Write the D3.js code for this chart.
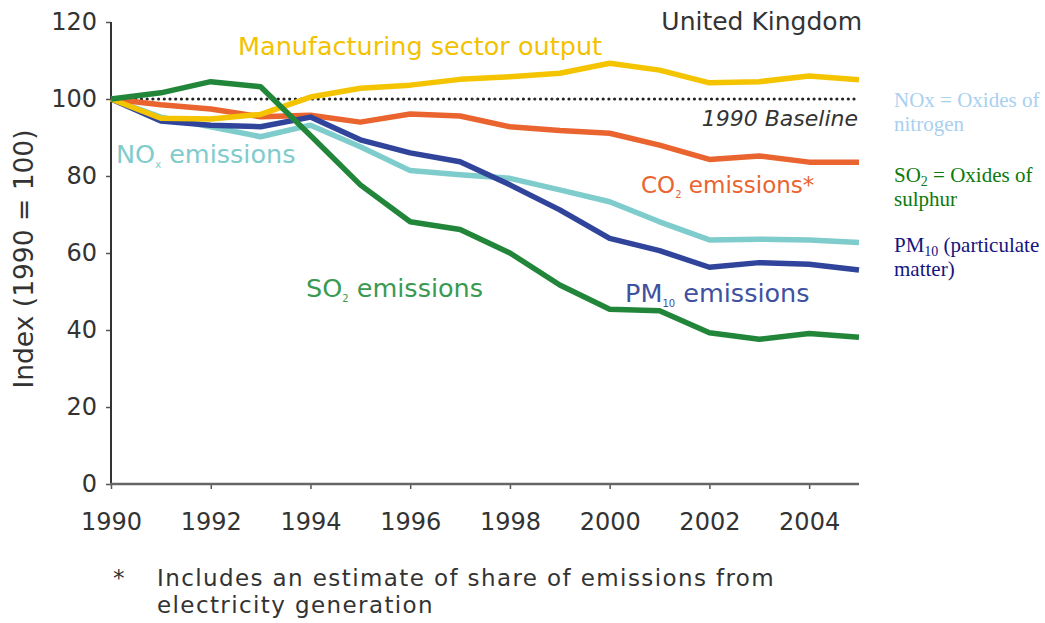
<!DOCTYPE html>
<html>
<head>
<meta charset="utf-8">
<script src="https://cdn.jsdelivr.net/npm/d3@7"></script>
<style>
  body { margin: 0; background: #fff; }
  svg { display: block; font-family: "DejaVu Sans", Verdana, sans-serif; }
  .axis text { fill: #333; font-size: 24px; font-family: "DejaVu Sans", Verdana, sans-serif; }
  .axis .domain { display: none; }
  .axis .tick line { stroke: #555; stroke-width: 1.5; }
</style>
</head>
<body>
<svg id="chart" width="1045" height="623"></svg>
<script>
// Emission indices for the UK, 1990 = 100
const years = d3.range(1990, 2006);
const manufacturing = [100, 95.0, 94.8, 96.0, 100.5, 102.8, 103.6, 105.1, 105.8, 106.7, 109.3, 107.5, 104.2, 104.5, 106.0, 105.0];
const co2  = [100, 98.5, 97.4, 95.4, 95.8, 94.0, 96.1, 95.6, 92.8, 91.8, 91.1, 88.0, 84.3, 85.2, 83.6, 83.6];
const nox  = [100, 95.3, 92.8, 90.2, 93.2, 87.6, 81.4, 80.3, 79.4, 76.4, 73.3, 68.1, 63.4, 63.6, 63.4, 62.7];
const pm10 = [100, 94.3, 93.2, 92.8, 95.3, 89.4, 86.0, 83.7, 77.7, 71.2, 63.8, 60.6, 56.3, 57.5, 57.1, 55.6];
const so2  = [100, 101.6, 104.5, 103.2, 90.5, 77.7, 68.1, 66.1, 60.0, 51.7, 45.4, 45.0, 39.3, 37.6, 39.1, 38.1];
const yTicks = [0, 20, 40, 60, 80, 100, 120];
const xTicks = d3.range(1990, 2006, 2);

const series = [
  { name: 'nox', values: nox, color: '#7fcccc' },
  { name: 'co2', values: co2, color: '#e9642f' },
  { name: 'pm10', values: pm10, color: '#2f449a' },
  { name: 'manufacturing', values: manufacturing, color: '#f5c400' },
  { name: 'so2', values: so2, color: '#22863a' }
];

const svg = d3.select('#chart');

const x = d3.scaleLinear().domain([1990, 2005]).range([111, 859]);
const y = d3.scaleLinear().domain([0, 120]).range([484, 22]);

// Axes
svg.append('g')
  .attr('class', 'axis')
  .attr('transform', 'translate(111,0)')
  .call(d3.axisLeft(y).tickValues(yTicks).tickSize(5).tickPadding(9));

svg.append('g')
  .attr('class', 'axis')
  .attr('transform', 'translate(0,484)')
  .call(d3.axisBottom(x).tickValues(xTicks).tickFormat(d3.format('d')).tickSize(5).tickPadding(24));

svg.append('line')
  .attr('x1', 111).attr('x2', 111)
  .attr('y1', y(120)).attr('y2', y(0))
  .attr('stroke', '#333').attr('stroke-width', 2);

svg.append('line')
  .attr('x1', 110).attr('x2', x(2005))
  .attr('y1', y(0)).attr('y2', y(0))
  .attr('stroke', '#666').attr('stroke-width', 2.5);

// 1990 baseline (round dots)
svg.append('line')
  .attr('x1', x(1990) + 2).attr('x2', x(2005))
  .attr('y1', y(100)).attr('y2', y(100))
  .attr('stroke', '#222').attr('stroke-width', 3.2)
  .attr('stroke-linecap', 'round')
  .attr('stroke-dasharray', '0,5.7');

// Lines
const line = d3.line()
  .x((d, i) => x(years[i]))
  .y(d => y(d));

series.forEach(s => {
  svg.append('path')
    .datum(s.values)
    .attr('fill', 'none')
    .attr('stroke', s.color)
    .attr('stroke-width', 5.5)
    .attr('stroke-linejoin', 'round')
    .attr('d', line);
});

// Labels on the chart
function label(xPos, yPos, parts, color, opts = {}) {
  const t = svg.append('text')
    .attr('x', xPos).attr('y', yPos)
    .attr('fill', color)
    .attr('font-size', opts.size || 24)
    .attr('text-anchor', opts.anchor || 'start')
    .attr('font-style', opts.italic ? 'italic' : null);
  parts.forEach(p => {
    const sp = t.append('tspan').text(p.t);
    if (p.sub) {
      sp.attr('font-size', 10).attr('dy', 5);
    } else if (p.after) {
      sp.attr('dy', -5);
    }
  });
  return t;
}

label(862, 30, [{ t: 'United Kingdom' }], '#333', { anchor: 'end', size: 25 });
label(238, 55, [{ t: 'Manufacturing sector output' }], '#f2c200', { size: 25.5 });
label(858, 126, [{ t: '1990 Baseline' }], '#333', { anchor: 'end', italic: true, size: 22 });
label(116, 163, [{ t: 'NO' }, { t: 'x', sub: true }, { t: ' emissions', after: true }], '#80cccc', { size: 25.5 });
label(641, 193, [{ t: 'CO' }, { t: '2', sub: true }, { t: ' emissions*', after: true }], '#e9642f', { size: 23 });
label(306, 297, [{ t: 'SO' }, { t: '2', sub: true }, { t: ' emissions', after: true }], '#3a9a52', { size: 25.5 });
label(625, 302, [{ t: 'PM' }, { t: '10', sub: true }, { t: ' emissions', after: true }], '#40529f', { size: 25.5 });

// Y axis title
svg.append('text')
  .attr('transform', 'translate(33,259) rotate(-90)')
  .attr('text-anchor', 'middle')
  .attr('fill', '#333')
  .attr('font-size', 26.5)
  .text('Index (1990 = 100)');

// Footnote
const foot = svg.append('g').attr('fill', '#333').attr('font-size', 23).attr('letter-spacing', 1.4);
foot.append('text').attr('x', 113).attr('y', 586).text('*');
foot.append('text').attr('x', 157).attr('y', 586).text('Includes an estimate of share of emissions from');
foot.append('text').attr('x', 157).attr('y', 613).text('electricity generation');

// Notes on the right
const notes = svg.append('g').attr('font-family', '"Liberation Serif", "Times New Roman", serif').attr('font-size', 21);
function note(yPos, parts, color) {
  const t = notes.append('text').attr('x', 894).attr('y', yPos).attr('fill', color);
  parts.forEach(p => {
    const sp = t.append('tspan').text(p.t);
    if (p.sub) sp.attr('font-size', 14).attr('dy', 4);
    else if (p.after) sp.attr('dy', -4);
  });
}
note(107, [{ t: 'NOx = Oxides of' }], '#a8d0f0');
note(131, [{ t: 'nitrogen' }], '#a8d0f0');
note(182, [{ t: 'SO' }, { t: '2', sub: true }, { t: ' = Oxides of', after: true }], '#0c7a0c');
note(206, [{ t: 'sulphur' }], '#0c7a0c');
note(252, [{ t: 'PM' }, { t: '10', sub: true }, { t: ' (particulate', after: true }], '#14147e');
note(276, [{ t: 'matter)' }], '#14147e');
</script>
</body>
</html>
